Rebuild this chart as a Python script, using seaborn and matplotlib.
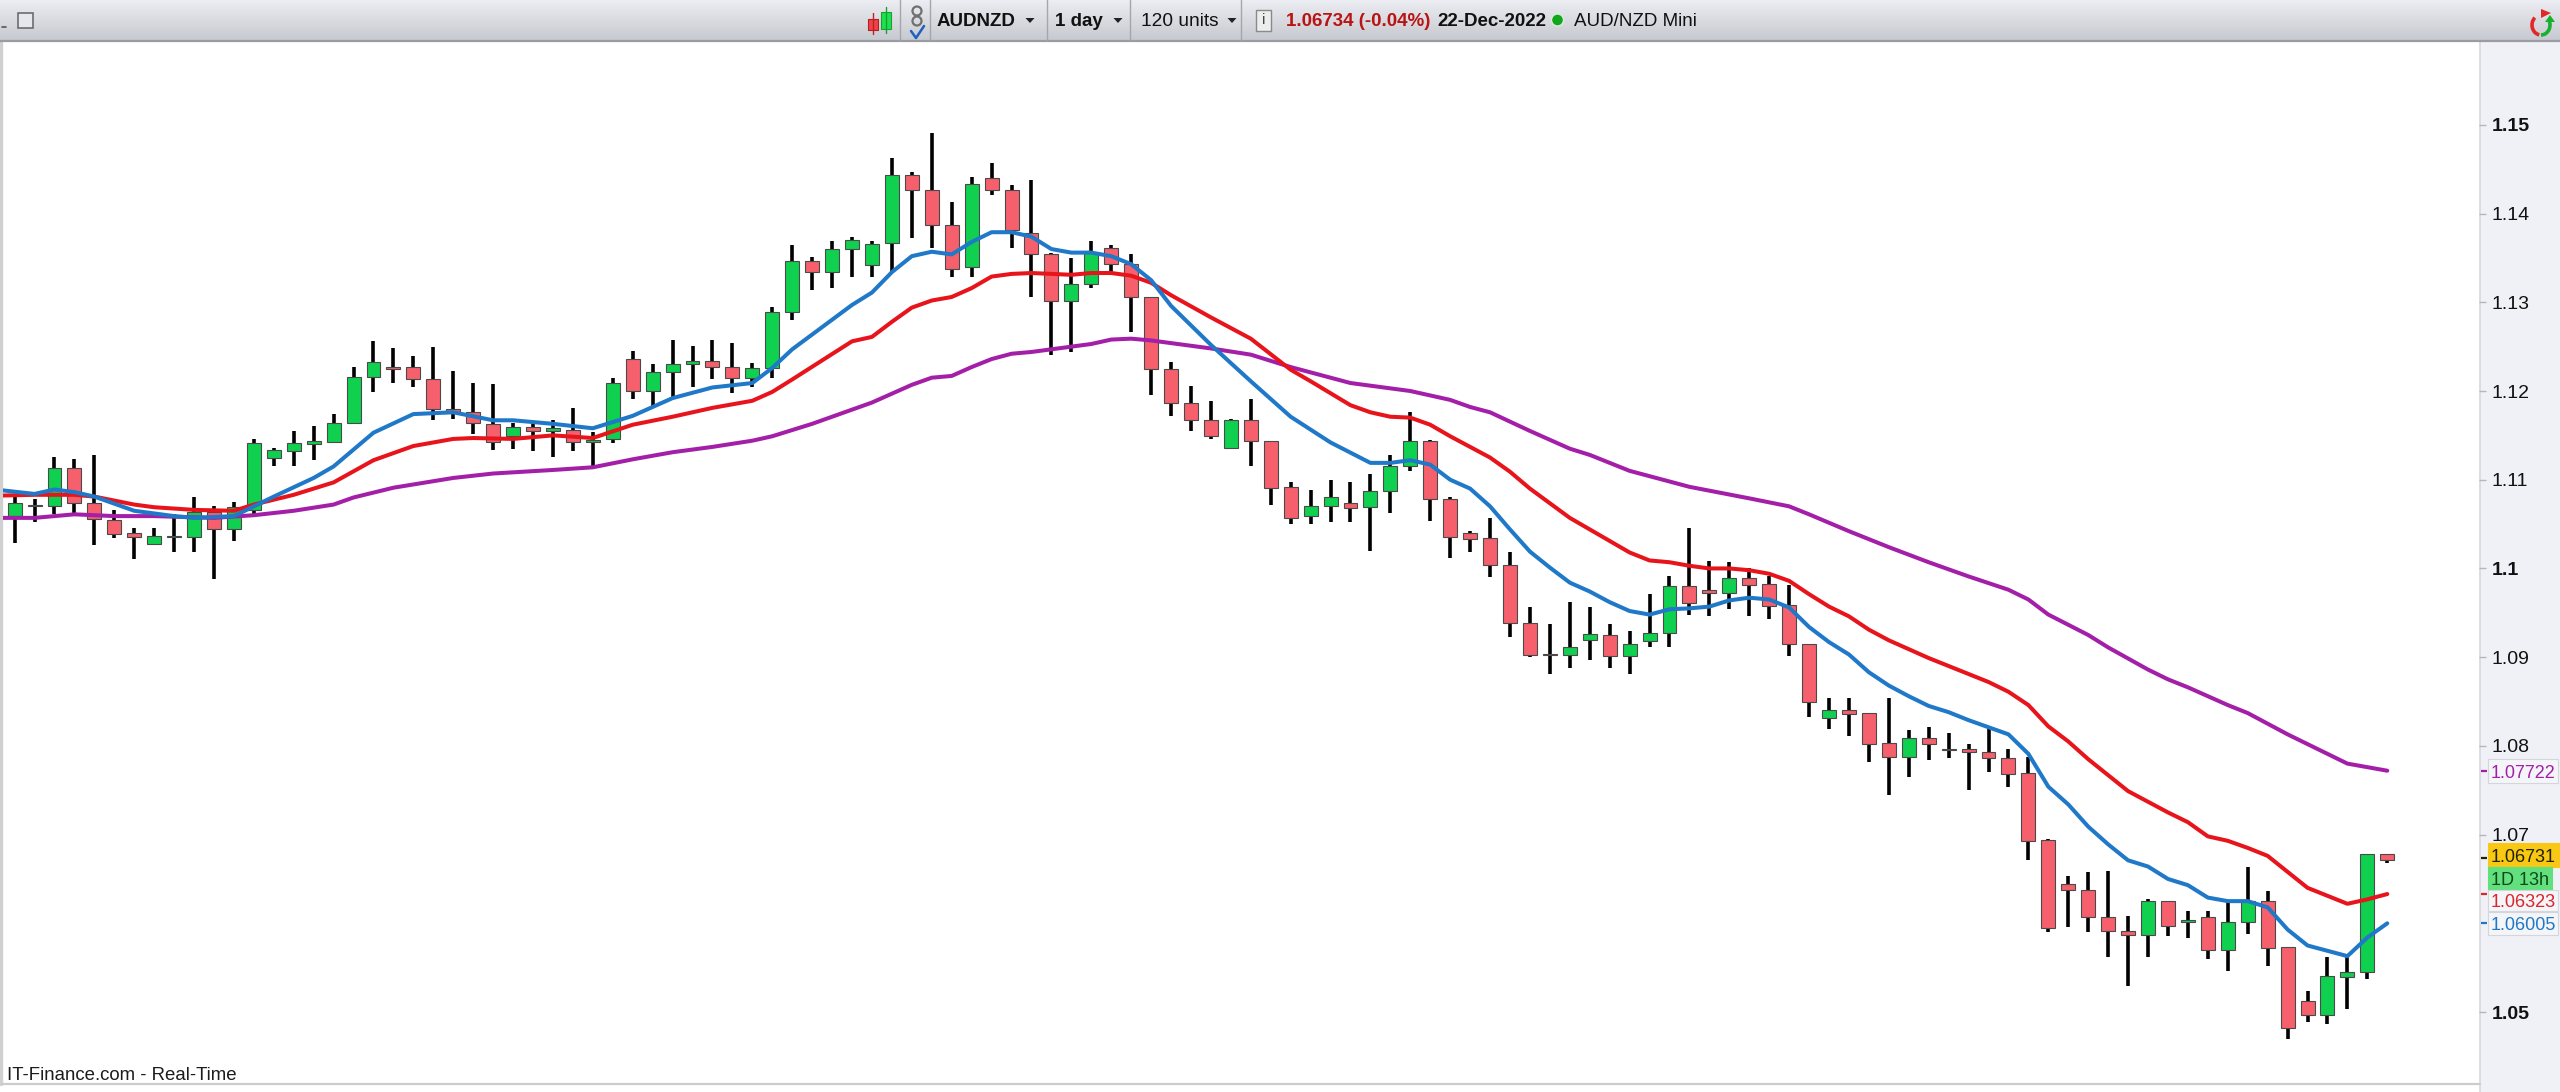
"""AUD/NZD daily candlestick chart with three moving averages, IT-Finance style."""

import matplotlib

matplotlib.use("Agg")

import matplotlib.pyplot as plt
import numpy as np
import pandas as pd
import seaborn as sns
from matplotlib.patches import Arc, Circle, Polygon, Rectangle

# one letter per candle, g = up, r = down
candle_dir = (
    "grgrrrrgrg" "rggggggggr" "rrrrrgrgrg" "grgggrrggg"
    "rggggrrrgr" "rrrggrrrrr" "rgrrrggrgg" "grrrrrrggg"
    "rgggrrgrrr" "rgrrrgrgrr" "rrrrrrrgrg" "rggrrrgggr"
)

candle_high = [
    1.1080, 1.1078, 1.1126, 1.1123, 1.1128, 1.1066, 1.1046, 1.1046, 1.1061, 1.1081,
    1.1070, 1.1075, 1.1146, 1.1136, 1.1155, 1.1161, 1.1174, 1.1227, 1.1256, 1.1248,
    1.1240, 1.1250, 1.1222, 1.1209, 1.1208, 1.1164, 1.1164, 1.1167, 1.1181, 1.1154,
    1.1215, 1.1245, 1.1231, 1.1257, 1.1251, 1.1257, 1.1254, 1.1232, 1.1295, 1.1365,
    1.1351, 1.1369, 1.1374, 1.1369, 1.1463, 1.1447, 1.1491, 1.1413, 1.1441, 1.1457,
    1.1432, 1.1438, 1.1356, 1.1350, 1.1369, 1.1365, 1.1354, 1.1306, 1.1233, 1.1206,
    1.1189, 1.1169, 1.1191, 1.1144, 1.1097, 1.1088, 1.1100, 1.1097, 1.1106, 1.1128,
    1.1176, 1.1145, 1.1081, 1.1042, 1.1057, 1.1019, 1.0957, 1.0937, 1.0962, 1.0956,
    1.0937, 1.0929, 1.0971, 1.0991, 1.1046, 1.1008, 1.1007, 1.1001, 1.0992, 1.0981,
    1.0915, 1.0854, 1.0854, 1.0837, 1.0854, 1.0818, 1.0821, 1.0815, 1.0802, 1.0820,
    1.0797, 1.0788, 1.0695, 1.0653, 1.0658, 1.0659, 1.0608, 1.0627, 1.0625, 1.0614,
    1.0614, 1.0625, 1.0664, 1.0636, 1.0573, 1.0524, 1.0562, 1.0563, 1.0678, 1.0678,
]
candle_top = [
    1.1074, 1.1072, 1.1113, 1.1113, 1.1074, 1.1055, 1.1040, 1.1037, 1.1037, 1.1064,
    1.1064, 1.1069, 1.1141, 1.1133, 1.1141, 1.1144, 1.1164, 1.1216, 1.1233, 1.1227,
    1.1227, 1.1214, 1.1180, 1.1176, 1.1163, 1.1159, 1.1159, 1.1158, 1.1156, 1.1145,
    1.1209, 1.1236, 1.1221, 1.1231, 1.1234, 1.1234, 1.1227, 1.1226, 1.1289, 1.1346,
    1.1346, 1.1360, 1.1370, 1.1366, 1.1444, 1.1444, 1.1427, 1.1387, 1.1433, 1.1440,
    1.1427, 1.1378, 1.1355, 1.1321, 1.1356, 1.1361, 1.1343, 1.1306, 1.1225, 1.1187,
    1.1167, 1.1167, 1.1167, 1.1144, 1.1092, 1.1070, 1.1081, 1.1074, 1.1087, 1.1115,
    1.1144, 1.1144, 1.1078, 1.1040, 1.1034, 1.1004, 1.0939, 1.0904, 1.0911, 1.0926,
    1.0925, 1.0915, 1.0927, 1.0980, 1.0980, 1.0976, 1.0989, 1.0989, 1.0982, 1.0959,
    1.0915, 1.0840, 1.0840, 1.0837, 1.0803, 1.0809, 1.0809, 1.0797, 1.0797, 1.0793,
    1.0786, 1.0769, 1.0694, 1.0644, 1.0638, 1.0607, 1.0591, 1.0625, 1.0625, 1.0604,
    1.0607, 1.0602, 1.0625, 1.0625, 1.0573, 1.0512, 1.0541, 1.0545, 1.0678, 1.0678,
]
candle_bottom = [
    1.1059, 1.1070, 1.1070, 1.1074, 1.1056, 1.1039, 1.1036, 1.1028, 1.1035, 1.1035,
    1.1044, 1.1044, 1.1066, 1.1125, 1.1132, 1.1140, 1.1143, 1.1164, 1.1216, 1.1225,
    1.1214, 1.1180, 1.1176, 1.1164, 1.1143, 1.1149, 1.1155, 1.1155, 1.1142, 1.1142,
    1.1146, 1.1200, 1.1200, 1.1221, 1.1231, 1.1227, 1.1215, 1.1215, 1.1226, 1.1289,
    1.1334, 1.1334, 1.1360, 1.1342, 1.1367, 1.1427, 1.1387, 1.1338, 1.1340, 1.1427,
    1.1382, 1.1355, 1.1302, 1.1302, 1.1321, 1.1343, 1.1306, 1.1225, 1.1187, 1.1167,
    1.1149, 1.1136, 1.1144, 1.1091, 1.1057, 1.1059, 1.1070, 1.1068, 1.1069, 1.1087,
    1.1115, 1.1078, 1.1035, 1.1033, 1.1004, 1.0939, 1.0902, 1.0902, 1.0902, 1.0919,
    1.0901, 1.0901, 1.0918, 1.0927, 1.0961, 1.0972, 1.0972, 1.0981, 1.0958, 1.0915,
    1.0849, 1.0831, 1.0836, 1.0802, 1.0787, 1.0787, 1.0802, 1.0795, 1.0793, 1.0786,
    1.0768, 1.0693, 1.0595, 1.0638, 1.0607, 1.0591, 1.0587, 1.0587, 1.0597, 1.0602,
    1.0570, 1.0570, 1.0602, 1.0572, 1.0482, 1.0497, 1.0497, 1.0539, 1.0545, 1.0671,
]
candle_low = [
    1.1029, 1.1052, 1.1061, 1.1063, 1.1026, 1.1034, 1.1011, 1.1027, 1.1019, 1.1019,
    1.0988, 1.1031, 1.1058, 1.1116, 1.1116, 1.1122, 1.1141, 1.1163, 1.1199, 1.1209,
    1.1205, 1.1167, 1.1169, 1.1152, 1.1133, 1.1135, 1.1132, 1.1126, 1.1132, 1.1114,
    1.1141, 1.1191, 1.1182, 1.1192, 1.1204, 1.1213, 1.1198, 1.1204, 1.1215, 1.1280,
    1.1314, 1.1316, 1.1329, 1.1328, 1.1334, 1.1372, 1.1361, 1.1329, 1.1328, 1.1421,
    1.1361, 1.1306, 1.1241, 1.1244, 1.1316, 1.1334, 1.1267, 1.1196, 1.1172, 1.1155,
    1.1146, 1.1135, 1.1115, 1.1071, 1.1050, 1.1050, 1.1052, 1.1052, 1.1020, 1.1063,
    1.1110, 1.1054, 1.1012, 1.1018, 1.0990, 1.0923, 1.0900, 1.0881, 1.0888, 1.0897,
    1.0888, 1.0881, 1.0911, 1.0911, 1.0948, 1.0946, 1.0954, 1.0946, 1.0943, 1.0901,
    1.0832, 1.0819, 1.0811, 1.0782, 1.0745, 1.0765, 1.0784, 1.0786, 1.0750, 1.0771,
    1.0754, 1.0671, 1.0590, 1.0596, 1.0590, 1.0562, 1.0529, 1.0562, 1.0586, 1.0584,
    1.0560, 1.0546, 1.0588, 1.0552, 1.0470, 1.0489, 1.0486, 1.0503, 1.0537, 1.0668,
]

# moving averages, read at the candles where the line bends
blue_index = [
    -1, 1, 2, 3, 4, 6, 8, 9, 11, 12, 13, 15, 16, 18, 20, 22, 24, 25, 27, 29, 31, 33, 35, 37, 38, 39,
    42, 43, 44, 45, 46, 47, 48, 49, 50, 51, 52, 53, 54, 55, 56, 57, 58, 60, 62, 64, 66, 68, 69, 70,
    71, 72, 73, 74, 75, 76, 77, 78, 79, 80, 81, 82, 83, 84, 85, 86, 87, 88, 89, 90, 91, 92, 93, 94,
    95, 96, 97, 98, 99, 100, 101, 102, 103, 104, 105, 106, 107, 108, 109, 110, 111, 112, 113, 114,
    115, 116, 117, 118, 119,
]
blue_ma = [
    1.1089, 1.1084, 1.1089, 1.1086, 1.1081, 1.1065, 1.1059, 1.1057, 1.1059, 1.1070, 1.1081, 1.1102,
    1.1115, 1.1153, 1.1174, 1.1176, 1.1167, 1.1167, 1.1163, 1.1158, 1.1172, 1.1192, 1.1204, 1.1209,
    1.1226, 1.1247, 1.1297, 1.1311, 1.1334, 1.1352, 1.1357, 1.1354, 1.1368, 1.1379, 1.1379, 1.1374,
    1.1360, 1.1356, 1.1356, 1.1352, 1.1343, 1.1325, 1.1296, 1.1252, 1.1211, 1.1171, 1.1142, 1.1119,
    1.1119, 1.1122, 1.1117, 1.1100, 1.1090, 1.1070, 1.1044, 1.1019, 1.1001, 1.0984, 1.0974, 1.0962,
    1.0952, 1.0948, 1.0954, 1.0955, 1.0957, 1.0964, 1.0967, 1.0965, 1.0956, 1.0934, 1.0917, 1.0903,
    1.0883, 1.0868, 1.0856, 1.0845, 1.0838, 1.0829, 1.0821, 1.0813, 1.0791, 1.0754, 1.0734, 1.0709,
    1.0689, 1.0671, 1.0664, 1.0650, 1.0643, 1.0629, 1.0625, 1.0625, 1.0618, 1.0593, 1.0575, 1.0569,
    1.0563, 1.0584, 1.0600,
]
red_index = [
    -1, 1, 3, 4, 6, 7, 9, 11, 12, 14, 16, 18, 20, 22, 23, 25, 27, 29, 31, 33, 35, 37, 38, 39, 42, 43,
    44, 45, 46, 47, 48, 49, 50, 51, 52, 53, 54, 55, 56, 57, 58, 60, 62, 64, 65, 67, 68, 69, 70, 71,
    72, 74, 75, 76, 78, 79, 81, 82, 83, 84, 85, 86, 87, 88, 89, 90, 91, 92, 93, 94, 95, 96, 97, 98,
    99, 100, 101, 102, 103, 104, 106, 108, 109, 110, 111, 112, 113, 114, 115, 116, 117, 118, 119,
]
red_ma = [
    1.1082, 1.1083, 1.1083, 1.1081, 1.1072, 1.1069, 1.1066, 1.1065, 1.1072, 1.1083, 1.1097, 1.1122,
    1.1138, 1.1146, 1.1147, 1.1146, 1.1150, 1.1147, 1.1162, 1.1171, 1.1181, 1.1189, 1.1199, 1.1213,
    1.1256, 1.1261, 1.1278, 1.1294, 1.1302, 1.1306, 1.1316, 1.1329, 1.1332, 1.1333, 1.1332, 1.1331,
    1.1333, 1.1333, 1.1330, 1.1322, 1.1308, 1.1283, 1.1259, 1.1224, 1.1211, 1.1184, 1.1176, 1.1171,
    1.1170, 1.1162, 1.1149, 1.1125, 1.1109, 1.1090, 1.1057, 1.1044, 1.1018, 1.1009, 1.1007, 1.1003,
    1.1000, 1.1000, 1.0998, 1.0994, 1.0986, 1.0971, 1.0957, 1.0946, 1.0931, 1.0919, 1.0909, 1.0899,
    1.0890, 1.0881, 1.0872, 1.0861, 1.0846, 1.0822, 1.0805, 1.0785, 1.0749, 1.0725, 1.0714, 1.0698,
    1.0693, 1.0685, 1.0676, 1.0658, 1.0640, 1.0631, 1.0622, 1.0627, 1.0633,
]
purple_index = [
    -1, 1, 3, 5, 7, 10, 12, 14, 16, 17, 19, 22, 24, 27, 29, 31, 33, 35, 37, 38, 40, 42, 43, 45, 46,
    47, 48, 49, 50, 51, 52, 53, 54, 55, 56, 57, 58, 60, 62, 64, 65, 67, 69, 70, 72, 73, 74, 76, 78,
    79, 81, 82, 84, 87, 89, 90, 92, 94, 96, 98, 100, 101, 102, 104, 105, 107, 108, 109, 111, 112,
    114, 115, 116, 117, 119,
]
purple_ma = [
    1.1057, 1.1057, 1.1061, 1.1059, 1.1059, 1.1057, 1.1060, 1.1065, 1.1072, 1.1080, 1.1091, 1.1102,
    1.1107, 1.1111, 1.1114, 1.1123, 1.1131, 1.1137, 1.1144, 1.1149, 1.1163, 1.1179, 1.1187, 1.1207,
    1.1215, 1.1217, 1.1227, 1.1236, 1.1242, 1.1244, 1.1247, 1.1250, 1.1253, 1.1258, 1.1259, 1.1257,
    1.1254, 1.1248, 1.1241, 1.1227, 1.1221, 1.1209, 1.1203, 1.1200, 1.1190, 1.1182, 1.1176, 1.1155,
    1.1135, 1.1128, 1.1110, 1.1104, 1.1092, 1.1079, 1.1070, 1.1061, 1.1042, 1.1024, 1.1007, 1.0991,
    1.0976, 1.0965, 1.0948, 1.0925, 1.0911, 1.0886, 1.0875, 1.0866, 1.0846, 1.0837, 1.0813, 1.0802,
    1.0791, 1.0780, 1.0772,
]

y_ticks = [1.15, 1.14, 1.13, 1.12, 1.11, 1.10, 1.09, 1.08, 1.07, 1.05]
y_tick_labels = ["1.15", "1.14", "1.13", "1.12", "1.11", "1.1", "1.09", "1.08", "1.07", "1.05"]
bold_labels = ["1.15", "1.1", "1.05"]

GREEN = "#0fd04f"
RED = "#f5606c"
BLUE = "#1f78c8"
LINE_RED = "#e8141c"
PURPLE = "#a41fa8"
WIDTH, HEIGHT = 2560, 1092


def to_axes_rect(left, top, right, bottom):
    """Pixel box (origin top left) to a figure fraction rectangle."""
    return [left / WIDTH, 1 - bottom / HEIGHT, (right - left) / WIDTH, (bottom - top) / HEIGHT]


def draw_candles(ax):
    x = np.arange(len(candle_high))
    top = np.array(candle_top)
    bottom = np.array(candle_bottom)
    colors = [GREEN if d == "g" else RED for d in candle_dir]
    ax.vlines(x, candle_low, candle_high, color="black", linewidth=2.6, zorder=2)
    ax.bar(x, top - bottom, bottom=bottom, width=0.7, color=colors,
           edgecolor="#4a4a4a", linewidth=0.8, zorder=3)


def draw_averages(ax):
    series = [
        (purple_index, purple_ma, PURPLE),
        (red_index, red_ma, LINE_RED),
        (blue_index, blue_ma, BLUE),
    ]
    for index, values, color in series:
        df = pd.DataFrame({"candle": index, "price": values})
        sns.lineplot(data=df, x="candle", y="price", color=color, linewidth=2.9,
                     estimator=None, sort=False, ax=ax, zorder=4)
    ax.set_xlabel("")
    ax.set_ylabel("")


def draw_tag(ui, text, top, bottom, color, tick_y, fill="#f4f5f8", right=2558, edge="#d4d6dc"):
    ui.add_patch(Rectangle((2488, top), right - 2488, bottom - top, facecolor=fill, edgecolor=edge, linewidth=0.8))
    ui.text(2491, (top + bottom) / 2 + 2, text, color=color, fontsize=13, va="center", ha="left")
    if tick_y is not None:
        ui.plot([2481, 2487], [tick_y, tick_y], color=color, linewidth=1.6, solid_capstyle="butt")


def draw_toolbar(ui):
    gradient = np.linspace(0, 1, 40).reshape(-1, 1)
    top_rgb = np.array([0.925, 0.93, 0.95])
    bottom_rgb = np.array([0.78, 0.79, 0.815])
    ui.imshow(top_rgb + (bottom_rgb - top_rgb) * gradient[:, :, None], extent=(0, WIDTH, 40, 0), aspect="auto", zorder=0)
    ui.plot([0, WIDTH], [41, 41], color="#9a9ca2", linewidth=1.6)

    ui.plot([2, 6], [27, 27], color="#555555", linewidth=1.2)
    ui.add_patch(Rectangle((18, 13), 15, 15, facecolor="#e6e7ec", edgecolor="#6c6c70", linewidth=1.2))

    # candle icon
    ui.plot([873, 873], [13, 34], color="#c02020", linewidth=1)
    ui.add_patch(Rectangle((868, 19), 10, 11, facecolor="#f0404a", edgecolor="#b02020", linewidth=0.8))
    ui.plot([886, 886], [7, 33], color="#18a030", linewidth=1)
    ui.add_patch(Rectangle((881, 12), 10, 17, facecolor="#1fe050", edgecolor="#18a030", linewidth=0.8))

    # link icon with the blue tick
    ui.add_patch(Circle((917, 11), 4.5, facecolor="none", edgecolor="#707070", linewidth=1.6))
    ui.add_patch(Circle((917, 21), 4.5, facecolor="none", edgecolor="#707070", linewidth=1.6))
    ui.plot([911, 916, 924], [31, 38, 26], color="#1f5fc0", linewidth=1.8)

    for x in [900, 930, 1047, 1130, 1241]:
        ui.plot([x, x], [0, 40], color="#a4a6ac", linewidth=1)

    for x in [1030, 1118, 1232]:
        ui.add_patch(Polygon([(x - 4.5, 18), (x + 4.5, 18), (x, 23)], facecolor="#222222", edgecolor="none"))

    ui.text(937, 21.5, "AUDNZD", fontsize=13.5, fontweight="bold", color="#111111", va="center")
    ui.text(1055, 21.5, "1 day", fontsize=13.5, fontweight="bold", color="#111111", va="center")
    ui.text(1141, 21.5, "120 units", fontsize=13.8, color="#111111", va="center")
    ui.add_patch(Rectangle((1256, 10), 15, 21, facecolor="#eceded", edgecolor="#8a8a8e", linewidth=1))
    ui.text(1263.5, 20.5, "i", fontsize=11, color="#444444", va="center", ha="center")
    ui.text(1286, 21.5, "1.06734 (-0.04%)", fontsize=13.5, fontweight="bold", color="#b81414", va="center")
    ui.text(1437, 21.5, "22-Dec-2022", fontsize=13.5, fontweight="bold", color="#111111", va="center")
    ui.add_patch(Circle((1557.5, 20), 6, facecolor="#12a51e", edgecolor="#d8f0d8", linewidth=1))
    ui.text(1574, 21.5, "AUD/NZD Mini", fontsize=13.5, color="#111111", va="center")

    # refresh icon
    ui.add_patch(Arc((2541, 25), 18, 20, theta1=100, theta2=230, color="#e02828", linewidth=2.6))
    ui.add_patch(Polygon([(2541, 9), (2551, 13), (2541, 18)], facecolor="#e02828", edgecolor="none"))
    ui.add_patch(Arc((2541, 25), 18, 20, theta1=320, theta2=90, color="#18b030", linewidth=2.6))
    ui.add_patch(Polygon([(2545, 22), (2555, 22), (2550, 15)], facecolor="#18b030", edgecolor="none"))


def main():
    sns.set_style("white")
    plt.rcParams["font.family"] = ["Liberation Sans", "DejaVu Sans"]

    fig = plt.figure(figsize=(WIDTH / 100, HEIGHT / 100), dpi=100, facecolor="white")

    # pixel addressed layer for everything round the chart
    ui = fig.add_axes([0, 0, 1, 1], zorder=0)
    ui.set_xlim(0, WIDTH)
    ui.set_ylim(HEIGHT, 0)
    ui.axis("off")
    ui.add_patch(Rectangle((2480, 42), 80, HEIGHT - 42, facecolor="#eff1f6", edgecolor="none"))
    ui.plot([2480, 2480], [42, HEIGHT], color="#d6d8dd", linewidth=1.2)
    ui.plot([1, 1], [42, 1084], color="#d0d0d0", linewidth=2.4)
    ui.plot([0, 2480], [1084, 1084], color="#cccccc", linewidth=1.6)
    draw_toolbar(ui)
    ui.set_xlim(0, WIDTH)
    ui.set_ylim(HEIGHT, 0)

    draw_tag(ui, "1.07722", 759, 783, PURPLE, 771)
    draw_tag(ui, "1.06731", 843, 867, "#222200", 858, fill="#f8c815", edge="#f8c815", right=2559)
    draw_tag(ui, "1D 13h", 867, 890, "#0c4a1c", None, fill="#62e07e", edge="#62e07e", right=2552)
    draw_tag(ui, "1.06323", 890, 911, "#d8262c", 894)
    draw_tag(ui, "1.06005", 912, 935, "#2277c4", 923)
    ui.text(7, 1075, "IT-Finance.com - Real-Time", fontsize=13.4, color="#1c1c1c", va="center")

    ax = fig.add_axes(to_axes_rect(3, 42, 2479, 1083), zorder=1)
    ax.patch.set_visible(False)
    draw_candles(ax)
    draw_averages(ax)
    ax.set_xlim(-0.582, 123.6)
    ax.set_ylim(1.0420, 1.15934)
    ax.set_xticks([])
    ax.yaxis.tick_right()
    ax.set_yticks(y_ticks)
    ax.set_yticklabels(y_tick_labels)
    ax.tick_params(axis="y", right=True, length=5, width=1, color="#b4b6bc", pad=4, labelsize=14, labelcolor="#111111")
    for label in ax.get_yticklabels():
        if label.get_text() in bold_labels:
            label.set_fontweight("bold")
    sns.despine(ax=ax, left=True, right=True, top=True, bottom=True)

    fig.savefig("out.png", dpi=100)


if __name__ == "__main__":
    main()
